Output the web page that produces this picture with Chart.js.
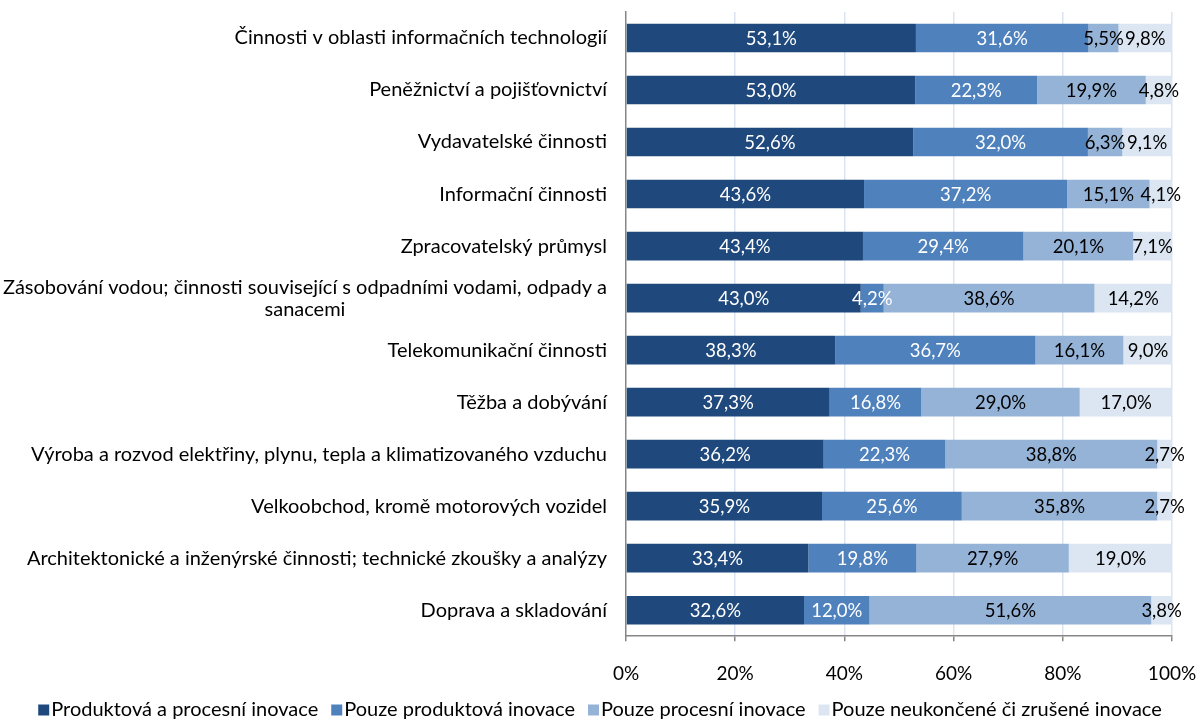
<!DOCTYPE html>
<html>
<head>
<meta charset="utf-8">
<script src="https://cdn.jsdelivr.net/npm/chart.js@4"></script>
<style>
html,body{margin:0;padding:0;background:#fff;overflow:hidden;}
#wrap{width:1202px;height:720px;position:relative;}
</style>
</head>
<body>
<div id="wrap"><canvas id="c" width="1202" height="720"></canvas></div>
<script>
const categories = [
  "Činnosti v oblasti informačních technologií",
  "Peněžnictví a pojišťovnictví",
  "Vydavatelské činnosti",
  "Informační činnosti",
  "Zpracovatelský průmysl",
  ["Zásobování vodou; činnosti související s odpadními vodami, odpady a", "sanacemi"],
  "Telekomunikační činnosti",
  "Těžba a dobývání",
  "Výroba a rozvod elektřiny, plynu, tepla a klimatizovaného vzduchu",
  "Velkoobchod, kromě motorových vozidel",
  "Architektonické a inženýrské činnosti; technické zkoušky a analýzy",
  "Doprava a skladování"
];
const seriesNames = [
  "Produktová a procesní inovace",
  "Pouze produktová inovace",
  "Pouze procesní inovace",
  "Pouze neukončené či zrušené inovace"
];
const produktovaProcesni = [53.1, 53.0, 52.6, 43.6, 43.4, 43.0, 38.3, 37.3, 36.2, 35.9, 33.4, 32.6];
const pouzeProduktova   = [31.6, 22.3, 32.0, 37.2, 29.4, 4.2, 36.7, 16.8, 22.3, 25.6, 19.8, 12.0];
const pouzeProcesni     = [5.5, 19.9, 6.3, 15.1, 20.1, 38.6, 16.1, 29.0, 38.8, 35.8, 27.9, 51.6];
const pouzeNeukoncene   = [9.8, 4.8, 9.1, 4.1, 7.1, 14.2, 9.0, 17.0, 2.7, 2.7, 19.0, 3.8];
const xTicks = [0, 20, 40, 60, 80, 100];

const colors = ["#1f497d", "#4f81bd", "#95b3d7", "#dce6f2"];
const labelColors = ["#ffffff", "#ffffff", "#000000", "#000000"];
const FONT = "Lato";

const valueLabels = {
  id: "valueLabels",
  afterDatasetsDraw(chart) {
    const ctx = chart.ctx;
    ctx.save();
    ctx.font = "18.5px " + FONT;
    ctx.textAlign = "center";
    ctx.textBaseline = "middle";
    chart.data.datasets.forEach((ds, i) => {
      const meta = chart.getDatasetMeta(i);
      meta.data.forEach((bar, j) => {
        const v = ds.data[j];
        const x = (bar.x + bar.base) / 2;
        ctx.fillStyle = labelColors[i];
        ctx.fillText(v.toFixed(1).replace(".", ",") + "%", x, bar.y + 1);
      });
    });
    ctx.restore();
  }
};

const catLabels = {
  id: "catLabels",
  afterDraw(chart) {
    const ctx = chart.ctx;
    const ys = chart.scales.y;
    const right = chart.chartArea.left - 19;
    ctx.save();
    ctx.font = "20px " + FONT;
    ctx.fillStyle = "#000";
    ctx.textBaseline = "middle";
    categories.forEach((lab, i) => {
      const y = ys.getPixelForTick(i);
      if (Array.isArray(lab)) {
        const w = Math.max(...lab.map(l => ctx.measureText(l).width));
        const cx = right - w / 2;
        const lh = 22;
        ctx.textAlign = "center";
        lab.forEach((l, k) => {
          ctx.fillText(l, cx, y + (k - (lab.length - 1) / 2) * lh);
        });
      } else {
        ctx.textAlign = "right";
        ctx.fillText(lab, right, y);
      }
    });
    ctx.restore();
  }
};

const customLegend = {
  id: "customLegend",
  afterDraw(chart) {
    const ctx = chart.ctx;
    ctx.save();
    ctx.font = "20px " + FONT;
    ctx.textBaseline = "middle";
    ctx.textAlign = "left";
    const box = 11, gapText = 2, gapItem = 13;
    const widths = seriesNames.map(n => ctx.measureText(n).width);
    let total = widths.reduce((a, w) => a + box + gapText + w, 0) + gapItem * (seriesNames.length - 1);
    let x = 600 - total / 2;
    const y = 710;
    seriesNames.forEach((n, i) => {
      ctx.fillStyle = colors[i];
      ctx.fillRect(x, y - 5.5, box, box);
      x += box + gapText;
      ctx.fillStyle = "#000";
      ctx.fillText(n, x, y);
      x += widths[i] + gapItem;
    });
    ctx.restore();
  }
};

const seriesData = [produktovaProcesni, pouzeProduktova, pouzeProcesni, pouzeNeukoncene];

new Chart(document.getElementById("c"), {
  type: "bar",
  data: {
    labels: categories,
    datasets: seriesNames.map((n, i) => ({
      label: n,
      data: seriesData[i],
      backgroundColor: colors[i],
      borderWidth: 0,
      barPercentage: 0.55,
      categoryPercentage: 1.0
    }))
  },
  options: {
    indexAxis: "y",
    responsive: false,
    animation: false,
    layout: { padding: { top: 12, right: 30, left: 0, bottom: 14 } },
    scales: {
      x: {
        stacked: true,
        min: 0,
        max: 100,
        afterBuildTicks(scale) { scale.ticks = xTicks.map(v => ({ value: v })); },
        afterFit(scale) { scale.paddingRight = 0; scale.paddingLeft = 0; },
        ticks: {
          callback: v => v + "%",
          font: { family: FONT, size: 19 },
          color: "#000",
          padding: 21,
          maxRotation: 0
        },
        grid: {
          color: c => (c.index === 0 ? "rgba(0,0,0,0)" : "#dbe5f1"),
          tickColor: "#868686",
          tickLength: 5,
          lineWidth: 1.5
        },
        border: { color: "#868686", width: 1.5 }
      },
      y: {
        stacked: true,
        afterFit(scale) { scale.width = 626; },
        ticks: { display: false },
        grid: { display: false },
        border: { color: "#868686", width: 1.5 }
      }
    },
    plugins: {
      legend: { display: false },
      tooltip: { enabled: false }
    }
  },
  plugins: [valueLabels, catLabels, customLegend]
});
</script>
</body>
</html>
